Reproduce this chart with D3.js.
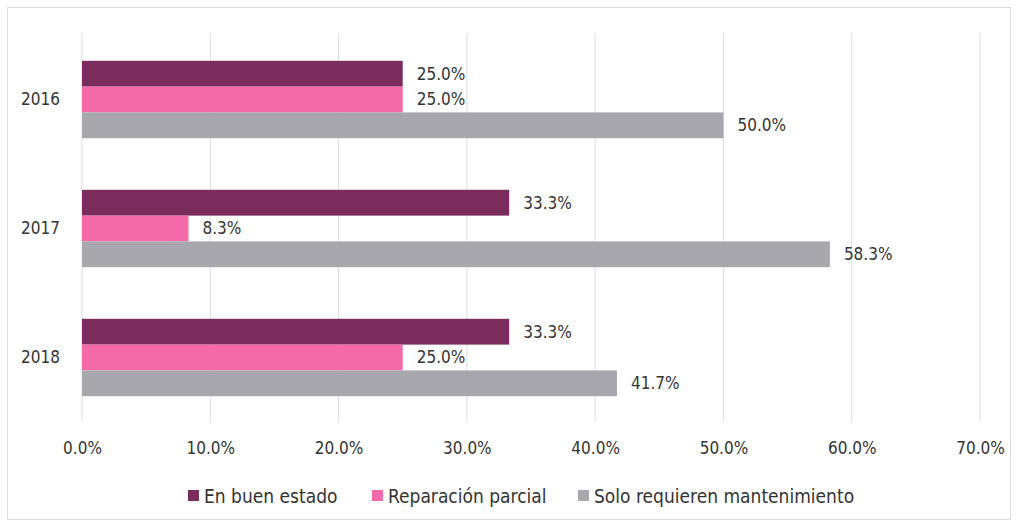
<!DOCTYPE html>
<html>
<head>
<meta charset="utf-8">
<script src="https://cdn.jsdelivr.net/npm/d3@7"></script>
<style>
  body { margin: 0; background: #fff; }
  text { font-family: "Liberation Sans Narrow", "DejaVu Sans Condensed", sans-serif; fill: #333; }
</style>
</head>
<body>
<svg id="chart" width="1019" height="528"></svg>
<script>
var years = ["2016", "2017", "2018"];
var seriesNames = ["En buen estado", "Reparación parcial", "Solo requieren mantenimiento"];
var buenEstado = [25.0, 33.3, 33.3];
var reparacion = [25.0, 8.3, 25.0];
var mantenimiento = [50.0, 58.3, 41.7];
var xTicks = [0, 10, 20, 30, 40, 50, 60, 70];
var colors = ["#7a2c5c", "#f46aa9", "#a9a7ae"];

var svg = d3.select("#chart");

// frame
svg.append("rect")
  .attr("x", 7.5).attr("y", 7.5)
  .attr("width", 1003).attr("height", 512)
  .attr("fill", "none").attr("stroke", "#dcdcdc");

var margin = {left: 82, right: 39, top: 35, bottom: 106};
var w = 1019 - margin.left - margin.right;
var h = 528 - margin.top - margin.bottom;

var x = d3.scaleLinear().domain([0, 70]).range([0, w]);
var y = d3.scaleBand().domain(years).range([0, h]).paddingInner(0.4).paddingOuter(0.2);
var ySub = d3.scaleBand().domain(d3.range(3)).range([0, y.bandwidth()]);

var g = svg.append("g").attr("transform", "translate(" + margin.left + "," + margin.top + ")");

// vertical grid
g.append("g").selectAll("line")
  .data(xTicks).enter().append("line")
  .attr("x1", d => x(d)).attr("x2", d => x(d))
  .attr("y1", -2).attr("y2", h)
  .attr("stroke", "#dddddd").attr("stroke-width", 1);

var xAxis = g.append("g")
  .attr("transform", "translate(0," + h + ")")
  .call(d3.axisBottom(x).tickValues(xTicks).tickSize(0).tickPadding(20)
    .tickFormat(d => d.toFixed(1) + "%"));
xAxis.select(".domain").remove();
xAxis.selectAll("text").style("font-size", "17px");

var yAxis = g.append("g")
  .call(d3.axisLeft(y).tickSize(0).tickPadding(22));
yAxis.select(".domain").remove();
yAxis.selectAll("text").style("font-size", "17px");

var allSeries = [buenEstado, reparacion, mantenimiento];

years.forEach(function(yr, i){
  var grp = g.append("g").attr("transform", "translate(0," + y(yr) + ")");
  allSeries.forEach(function(s, k){
    grp.append("rect")
      .attr("x", 0)
      .attr("y", ySub(k))
      .attr("width", x(s[i]))
      .attr("height", ySub.bandwidth())
      .attr("fill", colors[k]);
    grp.append("text")
      .attr("x", x(s[i]) + 14)
      .attr("y", ySub(k) + ySub.bandwidth() / 2)
      .attr("dy", "0.35em")
      .style("font-size", "17px")
      .text(s[i].toFixed(1) + "%");
  });
});

// legend
var legendX = [188, 372, 578];
var legend = svg.append("g").attr("transform", "translate(0,496)");
seriesNames.forEach(function(name, k){
  legend.append("rect")
    .attr("x", legendX[k]).attr("y", -6)
    .attr("width", 11).attr("height", 11)
    .attr("fill", colors[k]);
  legend.append("text")
    .attr("x", legendX[k] + 16).attr("y", 0)
    .attr("dy", "0.35em")
    .style("font-size", "19px")
    .text(name);
});
</script>
</body>
</html>
